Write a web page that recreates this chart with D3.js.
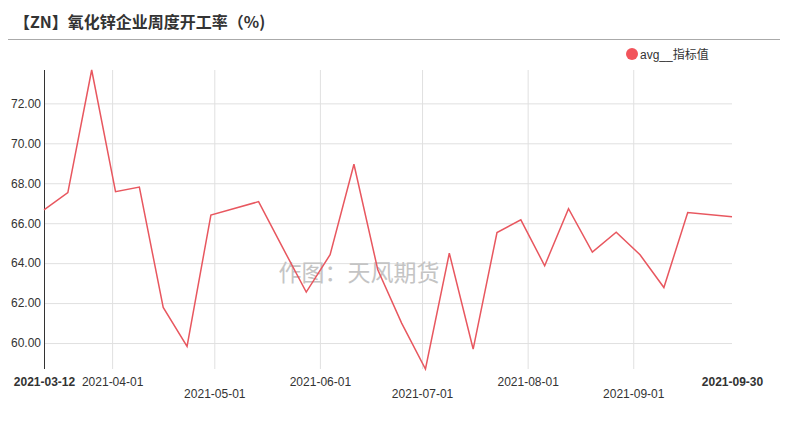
<!DOCTYPE html>
<html><head><meta charset="utf-8">
<script src="https://cdn.jsdelivr.net/npm/d3@7"></script>
<style>
body{margin:0;background:#fff;}
svg text{font-family:"Liberation Sans",Arial,"Noto Sans CJK SC",sans-serif;}
</style></head>
<body><svg id="c" width="787" height="428"></svg>
<script>
const title = "【ZN】氧化锌企业周度开工率（%)";
const seriesName = "avg__指标值";
const watermark = "作图：天风期货";
const dates = ["2021-03-12","2021-03-19","2021-03-26","2021-04-02","2021-04-09","2021-04-16","2021-04-23","2021-04-30","2021-05-14","2021-05-21","2021-05-28","2021-06-04","2021-06-11","2021-06-18","2021-06-25","2021-07-02","2021-07-09","2021-07-16","2021-07-23","2021-07-30","2021-08-06","2021-08-13","2021-08-20","2021-08-27","2021-09-03","2021-09-10","2021-09-17","2021-09-30"];
const values = [66.67,67.53,73.67,67.58,67.81,61.78,59.83,66.41,67.08,64.80,62.55,64.42,68.95,63.67,61.00,58.70,64.50,59.70,65.53,66.17,63.87,66.73,64.55,65.55,64.42,62.78,66.53,66.32];
const yTicks = [60,62,64,66,68,70,72];
const xTickLabels = ["2021-03-12","2021-04-01","2021-05-01","2021-06-01","2021-07-01","2021-08-01","2021-09-01","2021-09-30"];

const parse = d3.timeParse("%Y-%m-%d");
const data = dates.map((d,i)=>({date:parse(d), v:values[i]}));
const svg = d3.select("#c");
const L=44, R=732, T=70, B=369;
const x = d3.scaleTime().domain(d3.extent(data,d=>d.date)).range([L,R]);
const y = d3.scaleLinear().domain(d3.extent(values)).range([B,T]);

// title
svg.append("text").attr("x",14).attr("y",28).text(title)
  .style("font-family",'"Noto Sans CJK SC",sans-serif').style("font-size","16px").style("font-weight","bold").attr("fill","#333");
svg.append("line").attr("x1",8).attr("x2",780).attr("y1",39.5).attr("y2",39.5).attr("stroke","#aaa").attr("stroke-width",1);

// legend
svg.append("circle").attr("cx",632).attr("cy",54).attr("r",6).attr("fill","#f2545b");
svg.append("text").attr("x",640).attr("y",58.5).text(seriesName)
  .style("font-family",'"Liberation Sans","Noto Sans CJK SC",sans-serif').style("font-size","12px").attr("fill","#333");

// horizontal grid
const gy = svg.append("g").attr("transform",`translate(${L},0)`)
  .call(d3.axisLeft(y).tickValues(yTicks).tickSize(-(R-L)).tickFormat(""));
gy.select(".domain").remove();
gy.selectAll("line").attr("stroke","#e0e0e0");

// vertical grid at month ticks
const monthTicks = xTickLabels.slice(1,-1).map(parse);
const gx = svg.append("g").attr("transform",`translate(0,${B})`)
  .call(d3.axisBottom(x).tickValues(monthTicks).tickSize(-(B-T)).tickFormat(""));
gx.select(".domain").remove();
gx.selectAll("line").attr("stroke","#e0e0e0");

// y labels
const ya = svg.append("g").attr("transform",`translate(${L},0)`)
  .call(d3.axisLeft(y).tickValues(yTicks).tickSize(0).tickPadding(3).tickFormat(d3.format(".2f")));
ya.select(".domain").remove();
ya.selectAll("text").style("font-size","12px").attr("fill","#333").style("font-family",'"Liberation Sans",Arial,sans-serif');
svg.append("line").attr("x1",L+0.5).attr("x2",L+0.5).attr("y1",T).attr("y2",B).attr("stroke","#333").attr("stroke-width",1);

// x labels
const xa = svg.append("g").attr("transform",`translate(0,${B})`)
  .call(d3.axisBottom(x).tickValues(xTickLabels.map(parse)).tickSize(0).tickFormat(d3.timeFormat("%Y-%m-%d")));
xa.select(".domain").remove();
xa.selectAll("text")
  .style("font-size","12px").style("font-family",'"Liberation Sans",Arial,sans-serif')
  .attr("fill","#333")
  .attr("dy",null)
  .attr("y",(d,i)=> (i===2||i===4||i===6) ? 28.5 : 17)
  .style("font-weight",(d,i)=> (i===0||i===xTickLabels.length-1) ? "bold" : "normal");

// watermark
svg.append("text").attr("x",359).attr("y",281).attr("text-anchor","middle").text(watermark)
  .style("font-family",'"Noto Sans CJK SC",sans-serif').style("font-size","23px").attr("fill","#c4c4c4");

// line
svg.append("path").datum(data)
  .attr("d", d3.line().x(d=>x(d.date)).y(d=>y(d.v)))
  .attr("fill","none").attr("stroke","#e8575f").attr("stroke-width",1.5);
</script></body></html>
